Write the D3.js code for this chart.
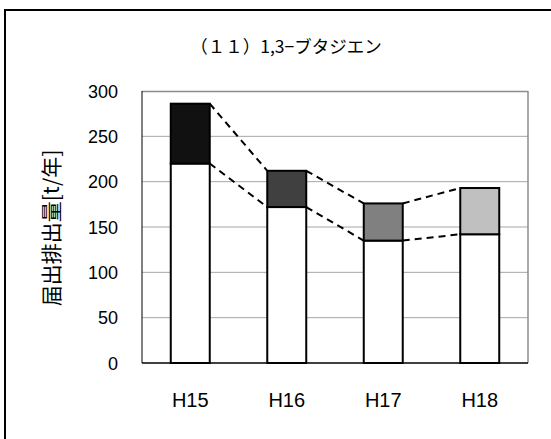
<!DOCTYPE html>
<html><head><meta charset="utf-8">
<script src="https://cdn.jsdelivr.net/npm/d3@7"></script>
<style>body{margin:0;background:#fff}svg{display:block}</style>
</head><body>
<svg id="c" width="551" height="439"></svg>
<script>
const categories = ["H15", "H16", "H17", "H18"];
const baseValues = [220, 172, 135, 142];
const addValues = [66, 40, 41, 51];
const topColors = ["#111111", "#404040", "#808080", "#c0c0c0"];
const yTicks = [0, 50, 100, 150, 200, 250, 300];
const title = "（１１）1,3−ブタジエン";
const yLabel = "届出排出量[t/年]";

const svg = d3.select("#c");
const L = 142, R = 528, T = 91, B = 363;
const x = d3.scaleBand().domain(categories).range([L, R]).paddingInner(0.596).paddingOuter(0.298);
const y = d3.scaleLinear().domain([0, 300]).range([B, T]);

// outer frame
svg.append("rect").attr("x", 5).attr("y", 10).attr("width", 600).attr("height", 500)
  .attr("fill", "none").attr("stroke", "#000").attr("stroke-width", 2);

// gridlines
svg.append("g").selectAll("line").data(yTicks.filter(d => d > 0 && d < 300)).join("line")
  .attr("x1", L).attr("x2", R).attr("y1", d => y(d)).attr("y2", d => y(d))
  .attr("stroke", "#a6a6a6").attr("stroke-width", 1);
// plot border
svg.append("line").attr("x1", L).attr("x2", R).attr("y1", T + 0.5).attr("y2", T + 0.5).attr("stroke", "#8c8c8c").attr("stroke-width", 1.5);
svg.append("line").attr("x1", R).attr("x2", R).attr("y1", T).attr("y2", B).attr("stroke", "#8c8c8c").attr("stroke-width", 1.5);
svg.append("line").attr("x1", L).attr("x2", L).attr("y1", T).attr("y2", B).attr("stroke", "#000").attr("stroke-width", 1);

// y tick labels
svg.append("g").selectAll("text").data(yTicks).join("text")
  .attr("x", 118).attr("y", d => y(d)).attr("dy", "0.37em").attr("text-anchor", "end")
  .attr("font-family", "Liberation Sans, Arial, sans-serif").attr("font-size", 18).attr("fill", "#000")
  .text(d => d);

// x labels
svg.append("g").selectAll("text").data(categories).join("text")
  .attr("x", d => x(d) + x.bandwidth() / 2).attr("y", 407).attr("text-anchor", "middle")
  .attr("font-family", "Liberation Sans, Arial, sans-serif").attr("font-size", 20).attr("fill", "#000")
  .text(d => d);

// series dashed lines
const totals = baseValues.map((v, i) => v + addValues[i]);
[baseValues, totals].forEach(arr => {
  svg.append("g").selectAll("line").data(d3.range(categories.length - 1)).join("line")
    .attr("x1", i => x(categories[i]) + x.bandwidth())
    .attr("y1", i => y(arr[i]))
    .attr("x2", i => x(categories[i + 1]))
    .attr("y2", i => y(arr[i + 1]))
    .attr("stroke", "#000").attr("stroke-width", 2).attr("stroke-dasharray", "7,5");
});

// bars
const g = svg.append("g");
g.selectAll("rect.base").data(categories).join("rect").attr("class", "base")
  .attr("x", d => x(d)).attr("width", x.bandwidth())
  .attr("y", (d, i) => y(baseValues[i])).attr("height", (d, i) => y(0) - y(baseValues[i]))
  .attr("fill", "#fff").attr("stroke", "#000").attr("stroke-width", 2);
g.selectAll("rect.add").data(categories).join("rect").attr("class", "add")
  .attr("x", d => x(d)).attr("width", x.bandwidth())
  .attr("y", (d, i) => y(totals[i])).attr("height", (d, i) => y(baseValues[i]) - y(totals[i]))
  .attr("fill", (d, i) => topColors[i]).attr("stroke", "#000").attr("stroke-width", 2);

// bottom axis line
svg.append("line").attr("x1", L).attr("x2", R).attr("y1", B).attr("y2", B).attr("stroke", "#000").attr("stroke-width", 1.5);

// title
svg.append("text").attr("x", 286).attr("y", 53).attr("text-anchor", "middle")
  .attr("font-family", "Noto Sans CJK JP, sans-serif").attr("font-size", 17.5).attr("fill", "#000")
  .text(title);

// y label
svg.append("text").attr("transform", "translate(59,228) rotate(-90)").attr("text-anchor", "middle")
  .attr("font-family", "Noto Sans CJK JP, sans-serif").attr("font-size", 21).attr("fill", "#000")
  .text(yLabel);
</script>
</body></html>
